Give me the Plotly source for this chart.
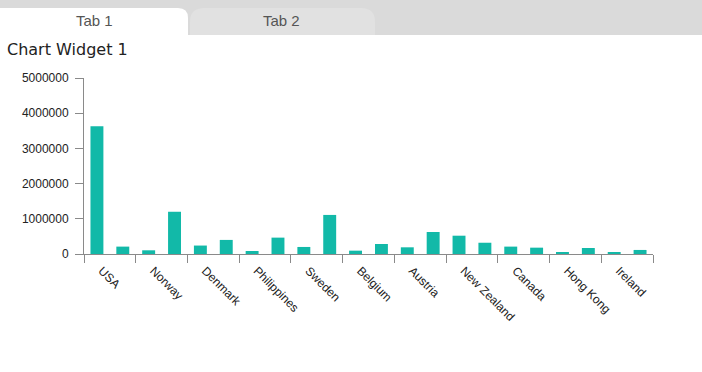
import plotly.graph_objects as go

countries = ["USA", "Norway", "Denmark", "Philippines", "Sweden", "Belgium",
             "Austria", "New Zealand", "Canada", "Hong Kong", "Ireland"]
series_a = [3630000, 105000, 240000, 85000, 200000, 95000, 190000, 520000, 210000, 40000, 50000]
series_b = [210000, 1200000, 400000, 465000, 1110000, 285000, 625000, 320000, 180000, 170000, 115000]
y_ticks = [0, 1000000, 2000000, 3000000, 4000000, 5000000]

W, H = 702, 372
L, R, T, B = 84, 653, 78, 254
BAR = "#12b9a8"

def px(x):
    return (x - L) / (R - L)

def py(y):
    return (B - y) / (B - T)

fig = go.Figure()
for vals in (series_a, series_b):
    fig.add_trace(go.Bar(x=countries, y=vals, marker=dict(color=BAR, line=dict(width=0)),
                         showlegend=False, hoverinfo="x+y"))

def path_round_top(x0, x1, y0, y1, r):
    return (f"M {px(x0)} {py(y1)} L {px(x0)} {py(y0 + r)} "
            f"Q {px(x0)} {py(y0)} {px(x0 + r)} {py(y0)} "
            f"L {px(x1 - r)} {py(y0)} Q {px(x1)} {py(y0)} {px(x1)} {py(y0 + r)} "
            f"L {px(x1)} {py(y1)} Z")

shapes = [
    dict(type="rect", xref="paper", yref="paper", x0=px(0), x1=px(W), y0=py(35), y1=py(0),
         fillcolor="#dadada", line=dict(width=0), layer="below"),
    dict(type="path", xref="paper", yref="paper", path=path_round_top(190, 375, 8, 35, 14),
         fillcolor="#e1e1e1", line=dict(width=0), layer="below"),
    dict(type="path", xref="paper", yref="paper", path=path_round_top(-14, 188, 8, 36, 10),
         fillcolor="#ffffff", line=dict(width=0), layer="below"),
]

annotations = [
    dict(text="Tab 1", xref="paper", yref="paper", x=px(94), y=py(21), showarrow=False,
         font=dict(size=15, color="#555555", family="Arial, Liberation Sans"), xanchor="center", yanchor="middle"),
    dict(text="Tab 2", xref="paper", yref="paper", x=px(281), y=py(21), showarrow=False,
         font=dict(size=15, color="#555555", family="Arial, Liberation Sans"), xanchor="center", yanchor="middle"),
    dict(text="Chart Widget 1", xref="paper", yref="paper", x=px(5), y=py(50), showarrow=False,
         font=dict(size=16, color="#222222", family="DejaVu Sans"), xanchor="left", yanchor="middle"),
]

fig.update_layout(
    width=W, height=H,
    margin=dict(l=L, r=W - R, t=T, b=H - B, pad=0),
    paper_bgcolor="white", plot_bgcolor="white",
    barmode="group", bargap=0, bargroupgap=0.5,
    font=dict(family="Arial, Liberation Sans", size=12, color="#222222"),
    shapes=shapes, annotations=annotations,
    xaxis=dict(showline=True, linecolor="#8a8a8a", linewidth=1, ticks="outside", ticklen=8,
               tickcolor="#8a8a8a", tickson="boundaries", tickangle=45, showgrid=False,
               zeroline=False, tickfont=dict(size=12, color="#222222"),
               ticklabelshift=-8, ticklabelstandoff=4),
    yaxis=dict(range=[0, 5000000], tickvals=y_ticks, ticktext=[str(v) for v in y_ticks],
               showline=True, linecolor="#8a8a8a", linewidth=1, ticks="outside", ticklen=8,
               tickcolor="#8a8a8a", showgrid=False, zeroline=False,
               tickfont=dict(size=12, color="#222222"), ticklabelstandoff=4),
)

fig.write_html("out.html", config={"displayModeBar": False},
               post_script="document.body.style.margin='0';")
